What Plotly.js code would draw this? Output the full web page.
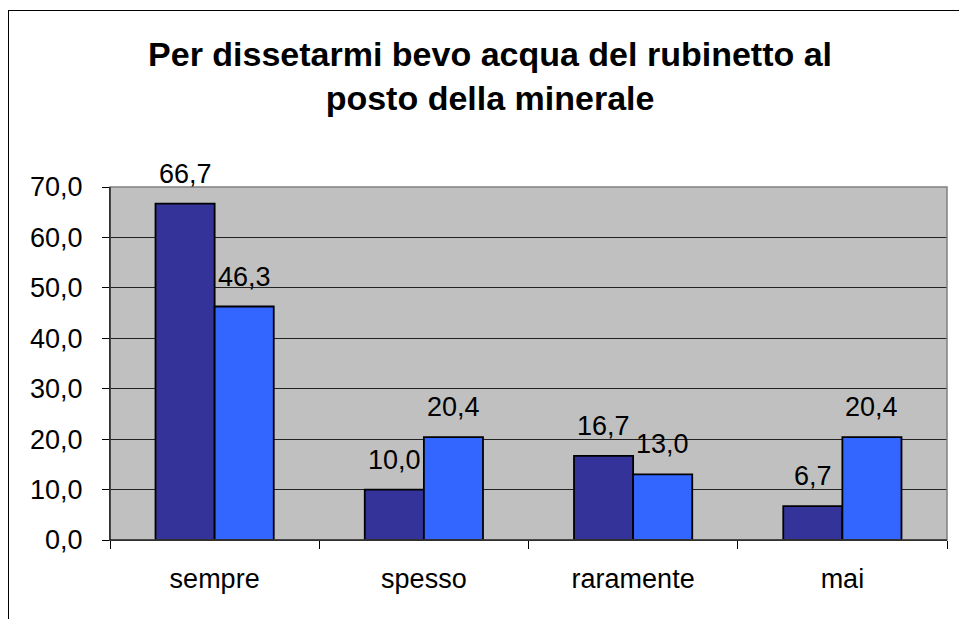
<!DOCTYPE html>
<html>
<head>
<meta charset="utf-8">
<script src="https://cdn.plot.ly/plotly-3.0.1.min.js"></script>
<style>
html,body{margin:0;padding:0;overflow:hidden;background:#fff;}
#chart{width:959px;height:619px;position:absolute;left:0;top:0;}
#frame{position:absolute;left:8px;top:10px;width:2000px;height:2000px;border-left:1px solid #000;border-top:1px solid #000;pointer-events:none;}
</style>
</head>
<body>
<div id="chart"></div>
<div id="frame"></div>
<script>
var categories = ["sempre", "spesso", "raramente", "mai"];
var series1 = [66.7, 10.0, 16.7, 6.7];
var series2 = [46.3, 20.4, 13.0, 20.4];
var yTicks = [0, 10, 20, 30, 40, 50, 60, 70];
var titleText = "Per dissetarmi bevo acqua del rubinetto al<br>posto della minerale";

var FONT = "Liberation Sans, Arial, sans-serif";
var FS = 27;
var traces = [
  {type:"bar", x:categories, y:series1, marker:{color:"#333399", line:{color:"#000", width:1.8}}, hoverinfo:"none"},
  {type:"bar", x:categories, y:series2, marker:{color:"#3366FF", line:{color:"#000", width:1.8}}, hoverinfo:"none"}
];

var annotations = [];
var shift = 29.6;
[series1, series2].forEach(function(s, i){
  s.forEach(function(v, j){
    annotations.push({
      x: categories[j], y: v, xref:"x", yref:"y",
      text: v.toFixed(1).replace(".", ","),
      showarrow:false, yanchor:"bottom", xanchor:"center",
      xshift: (i === 0 ? -shift : shift), yshift: 13,
      font:{family:FONT, size:FS, color:"#000"}
    });
  });
});

var layout = {
  width:959, height:619,
  margin:{l:110, r:12, t:187, b:79, pad:0},
  paper_bgcolor:"#fff", plot_bgcolor:"#C0C0C0",
  separators:",.",
  showlegend:false,
  barmode:"group", bargap:0.435, bargroupgap:0,
  title:{text:titleText, x:0.511, xref:"container", xanchor:"center", y:0.893, yref:"container", yanchor:"middle",
         font:{family:FONT, size:34, color:"#000", weight:"bold"}},
  xaxis:{type:"category", showline:true, linecolor:"#000", linewidth:1, ticks:"outside", tickson:"boundaries",
         ticklen:8, tickcolor:"#000", tickwidth:1, showgrid:false, zeroline:false,
         tickfont:{family:FONT, size:FS, color:"#000"}, ticklabelstandoff:15},
  yaxis:{range:[0,70], tickvals:yTicks, tickformat:".1f", showline:true, linecolor:"#000", linewidth:1,
         ticks:"outside", ticklen:7, tickcolor:"#000", tickwidth:1, showgrid:true, gridcolor:"#222", gridwidth:1,
         zeroline:false, tickfont:{family:FONT, size:FS, color:"#000"}, ticklabelstandoff:14},
  shapes:[{type:"rect", xref:"paper", yref:"paper", x0:0, x1:1, y0:0, y1:1, line:{color:"#808080", width:1.5}, layer:"above"},
          {type:"line", xref:"paper", yref:"paper", x0:0, x1:0, y0:0, y1:1, line:{color:"#000", width:1}, layer:"above"},
          {type:"line", xref:"paper", yref:"paper", x0:0, x1:1, y0:0, y1:0, line:{color:"#000", width:1}, layer:"above"}],
  annotations:annotations
};

Plotly.newPlot("chart", traces, layout, {displayModeBar:false, staticPlot:true});
</script>
</body>
</html>
